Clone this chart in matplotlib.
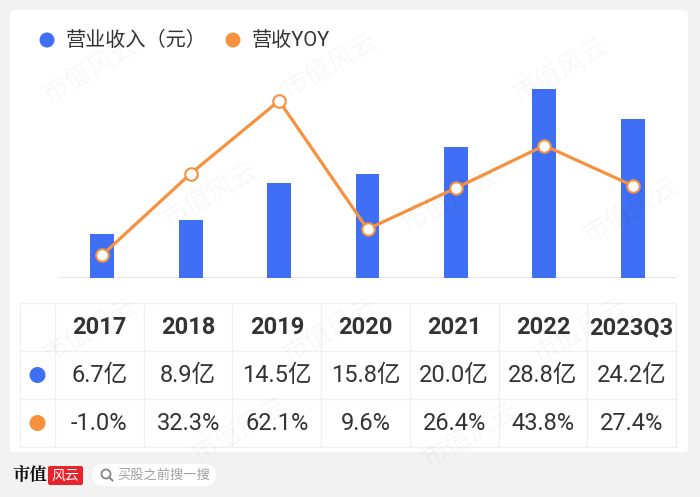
import numpy as np
import matplotlib
matplotlib.use("Agg")
import matplotlib.pyplot as plt
from matplotlib.patches import FancyBboxPatch, Circle

plt.rcParams['font.family'] = ['Roboto', 'Noto Sans CJK SC', 'DejaVu Sans']

# 数据
years = ['2017', '2018', '2019', '2020', '2021', '2022', '2023Q3']
revenue = [6.7, 8.9, 14.5, 15.8, 20.0, 28.8, 24.2]       # 亿元
yoy = [-1.0, 32.3, 62.1, 9.6, 26.4, 43.8, 27.4]          # %
legend_names = ['营业收入（元）', '营收YOY']

blue = '#3e6ff5'
orange = '#f5913f'
txt = '#333333'

W, H = 700, 497
fig = plt.figure(figsize=(W / 100, H / 100), dpi=100)
fig.patch.set_facecolor('#f2f2f2')

# 背景层（像素坐标）
bg = fig.add_axes([0, 0, 1, 1], zorder=0)
bg.set_xlim(0, W)
bg.set_ylim(H, 0)
bg.axis('off')
bg.add_patch(FancyBboxPatch((10, 10), 678, 442, boxstyle='round,pad=0,rounding_size=4',
                            fc='white', ec='none'))

# 图例
bg.add_patch(Circle((47, 40), 7.5, fc=blue, ec='none'))
bg.text(66, 40, legend_names[0], fontsize=14.5, color=txt, va='center', ha='left')
bg.add_patch(Circle((233, 40), 7.5, fc=orange, ec='none'))
bg.text(252, 40, legend_names[1], fontsize=14.5, color=txt, va='center', ha='left')

# 主图
ax = fig.add_axes([58 / W, 1 - 278 / H, 619 / W, 197 / H], zorder=1)
ax.patch.set_alpha(0)
x = np.arange(len(years))
ax.bar(x, revenue, width=0.27, color=blue, zorder=2)
ax.set_xlim(-0.5, len(years) - 0.5)
ax.set_ylim(0, 30)
ax.axhline(0, color='#e3e3e3', lw=1.2, zorder=1)
for s in ax.spines.values():
    s.set_visible(False)
ax.set_xticks([])
ax.set_yticks([])

ax2 = ax.twinx()
ax2.plot(x, yoy, color=orange, lw=2.3, marker='o', markersize=9,
         markerfacecolor='white', markeredgecolor=orange, markeredgewidth=1.5, zorder=3)
ax2.set_ylim(-10.4, 70.2)
for s in ax2.spines.values():
    s.set_visible(False)
ax2.set_yticks([])

# 表格
tx0, tx1 = 20, 676
first_w = 35
col_w = (tx1 - tx0 - first_w) / len(years)
rows_y = [303, 351, 399, 447]
grid_c = '#f0f0f0'
for y in rows_y:
    bg.plot([tx0, tx1], [y, y], color=grid_c, lw=1)
col_edges = [tx0, tx0 + first_w] + [tx0 + first_w + col_w * (i + 1) for i in range(len(years))]
for cx in col_edges:
    bg.plot([cx, cx], [rows_y[0], rows_y[-1]], color=grid_c, lw=1)

row_mid = [(rows_y[i] + rows_y[i + 1]) / 2 for i in range(3)]
for i, yr in enumerate(years):
    cx = tx0 + first_w + col_w * (i + 0.5)
    bg.text(cx, row_mid[0] + 1, yr, fontsize=17, fontweight='bold', color=txt,
            ha='center', va='center')
    bg.text(cx, row_mid[1] + 1, f'{revenue[i]:.1f}亿', fontsize=17, color=txt,
            ha='center', va='center')
    bg.text(cx, row_mid[2] + 1, f'{yoy[i]:.1f}%', fontsize=17, color=txt,
            ha='center', va='center')
bg.add_patch(Circle((tx0 + first_w / 2, row_mid[1]), 8, fc=blue, ec='none'))
bg.add_patch(Circle((tx0 + first_w / 2, row_mid[2]), 8, fc=orange, ec='none'))

# 底部 logo 与搜索框
bg.text(12, 475, '市值', fontsize=12.5, fontweight='bold', color='#111111',
        family=['Noto Serif CJK SC', 'Noto Sans CJK SC'], ha='left', va='center')
bg.add_patch(FancyBboxPatch((48, 466), 35, 19, boxstyle='round,pad=0,rounding_size=2',
                            fc='#e8232c', ec='none'))
bg.text(65.5, 475.5, '风云', fontsize=10, color='white', style='italic',
        ha='center', va='center', family=['Noto Sans CJK SC'])
bg.add_patch(FancyBboxPatch((92, 464), 124, 22, boxstyle='round,pad=0,rounding_size=11',
                            fc='white', ec='none'))
bg.add_patch(Circle((106, 474), 4.5, fc='none', ec='#888888', lw=1.3))
bg.plot([109.2, 112.5], [477.2, 480.5], color='#888888', lw=1.4)
bg.text(117, 475, '买股之前搜一搜', fontsize=9.5, color='#a0a0a0', ha='left', va='center',
        family=['Noto Sans CJK SC'])

# 水印
ov = fig.add_axes([0, 0, 1, 1], zorder=3)
ov.set_xlim(0, W)
ov.set_ylim(H, 0)
ov.axis('off')
ov.patch.set_alpha(0)
wm_pos = [(90, 70), (330, 65), (560, 70), (210, 195), (450, 200), (630, 210),
          (90, 330), (330, 330), (580, 330), (240, 430), (470, 435)]
for px, py in wm_pos:
    ov.text(px, py, '市值风云', fontsize=19, color='#000000', alpha=0.03, rotation=30,
            ha='center', va='center', family=['Noto Sans CJK SC'])

fig.savefig('out.png', dpi=100)
